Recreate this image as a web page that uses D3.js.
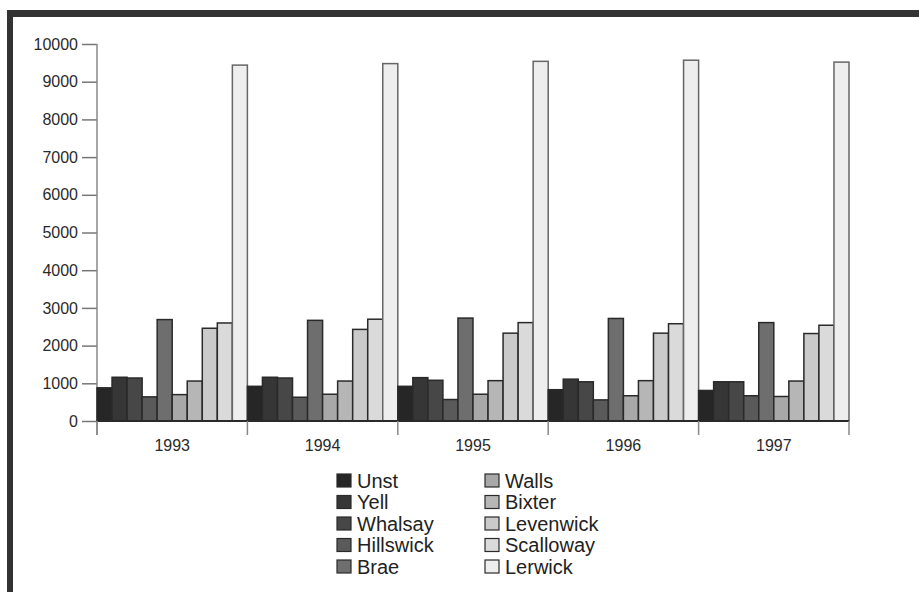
<!DOCTYPE html>
<html>
<head>
<meta charset="utf-8">
<script src="https://cdn.jsdelivr.net/npm/d3@7"></script>
<style>
  html, body { margin: 0; padding: 0; background: #fff; }
  svg { display: block; font-family: "Liberation Sans", Arial, Helvetica, sans-serif; }
</style>
</head>
<body>
<svg id="chart" width="919" height="592"></svg>
<script>
const years = ["1993", "1994", "1995", "1996", "1997"];
const places = ["Unst", "Yell", "Whalsay", "Hillswick", "Brae", "Walls", "Bixter", "Levenwick", "Scalloway", "Lerwick"];
const colors = ["#262626", "#363636", "#474747", "#5a5a5a", "#6e6e6e", "#a8a8a8", "#b6b6b6", "#cacaca", "#dadada", "#eeeeee"];
const yTicks = [0, 1000, 2000, 3000, 4000, 5000, 6000, 7000, 8000, 9000, 10000];

const unst      = [880, 920, 920, 830, 810];
const yell      = [1160, 1160, 1150, 1110, 1040];
const whalsay   = [1140, 1140, 1080, 1040, 1040];
const hillswick = [640, 630, 570, 560, 670];
const brae      = [2690, 2670, 2730, 2720, 2610];
const walls     = [700, 710, 710, 670, 650];
const bixter    = [1060, 1060, 1070, 1070, 1060];
const levenwick = [2460, 2430, 2330, 2330, 2320];
const scalloway = [2600, 2700, 2610, 2580, 2540];
const lerwick   = [9440, 9480, 9540, 9570, 9520];

const seriesValues = [unst, yell, whalsay, hillswick, brae, walls, bixter, levenwick, scalloway, lerwick];

const svg = d3.select("#chart");

// frame
svg.append("rect").attr("x", 7).attr("y", 10).attr("width", 912).attr("height", 7).attr("fill", "#333");
svg.append("rect").attr("x", 7).attr("y", 10).attr("width", 6).attr("height", 582).attr("fill", "#333");

const x0 = d3.scaleBand().domain(years).range([97, 849]).padding(0);
const x1 = d3.scaleBand().domain(places).range([0, x0.bandwidth()]).padding(0);
const y = d3.scaleLinear().domain([0, 10000]).range([421, 44]);
const color = d3.scaleOrdinal().domain(places).range(colors);

// y axis
const yAxis = d3.axisLeft(y).tickValues(yTicks).tickSize(15).tickPadding(4).tickFormat(d3.format("d"));
const yg = svg.append("g").attr("transform", "translate(97,0)").call(yAxis);
yg.select(".domain").remove();
yg.selectAll(".tick line").attr("stroke", "#777").attr("stroke-width", 1.5);
yg.selectAll(".tick text").attr("font-size", 16).attr("fill", "#2a2a2a")
  .attr("font-family", "'Liberation Sans', Arial, sans-serif");
svg.append("line").attr("x1", 97).attr("x2", 97).attr("y1", 44).attr("y2", 435)
  .attr("stroke", "#888").attr("stroke-width", 1.5);

// bars
const groups = svg.append("g").selectAll("g").data(years).join("g")
  .attr("transform", d => `translate(${x0(d)},0)`);
groups.selectAll("rect")
  .data((yr, i) => places.map((p, j) => ({ place: p, value: seriesValues[j][i] })))
  .join("rect")
  .attr("x", d => x1(d.place))
  .attr("y", d => y(d.value))
  .attr("width", x1.bandwidth())
  .attr("height", d => y(0) - y(d.value))
  .attr("fill", d => color(d.place))
  .attr("stroke", d => d.place === "Lerwick" ? "#666" : "#2a2a2a")
  .attr("stroke-width", 1.5);

// x axis
const xAxis = d3.axisBottom(x0).tickSize(0).tickPadding(19);
const xg = svg.append("g").attr("transform", "translate(0,421)").call(xAxis);
xg.select(".domain").remove();
xg.selectAll(".tick text").attr("font-size", 16).attr("fill", "#2a2a2a")
  .attr("font-family", "'Liberation Sans', Arial, sans-serif");
svg.append("line").attr("x1", 97).attr("x2", 849).attr("y1", 421).attr("y2", 421)
  .attr("stroke", "#2a2a2a").attr("stroke-width", 2);
const bounds = years.map(d => x0(d)).concat([x0(years[years.length - 1]) + x0.bandwidth()]);
svg.append("g").selectAll("line").data(bounds).join("line")
  .attr("x1", d => d).attr("x2", d => d).attr("y1", 421).attr("y2", 435)
  .attr("stroke", "#888").attr("stroke-width", 1.5);

// legend
const legend = svg.append("g");
const items = legend.selectAll("g").data(places).join("g")
  .attr("transform", (d, i) => {
    const col = i < 5 ? 0 : 1;
    const row = i % 5;
    return `translate(${col === 0 ? 337 : 485},${480.5 + row * 21.5})`;
  });
items.append("rect").attr("x", 0).attr("y", -6.5).attr("width", 14).attr("height", 13)
  .attr("fill", d => color(d)).attr("stroke", "#2a2a2a").attr("stroke-width", 1.2);
items.append("text").attr("x", 20).attr("y", 0).attr("dy", "0.35em")
  .attr("font-size", 20).attr("fill", "#222").text(d => d);
</script>
</body>
</html>
